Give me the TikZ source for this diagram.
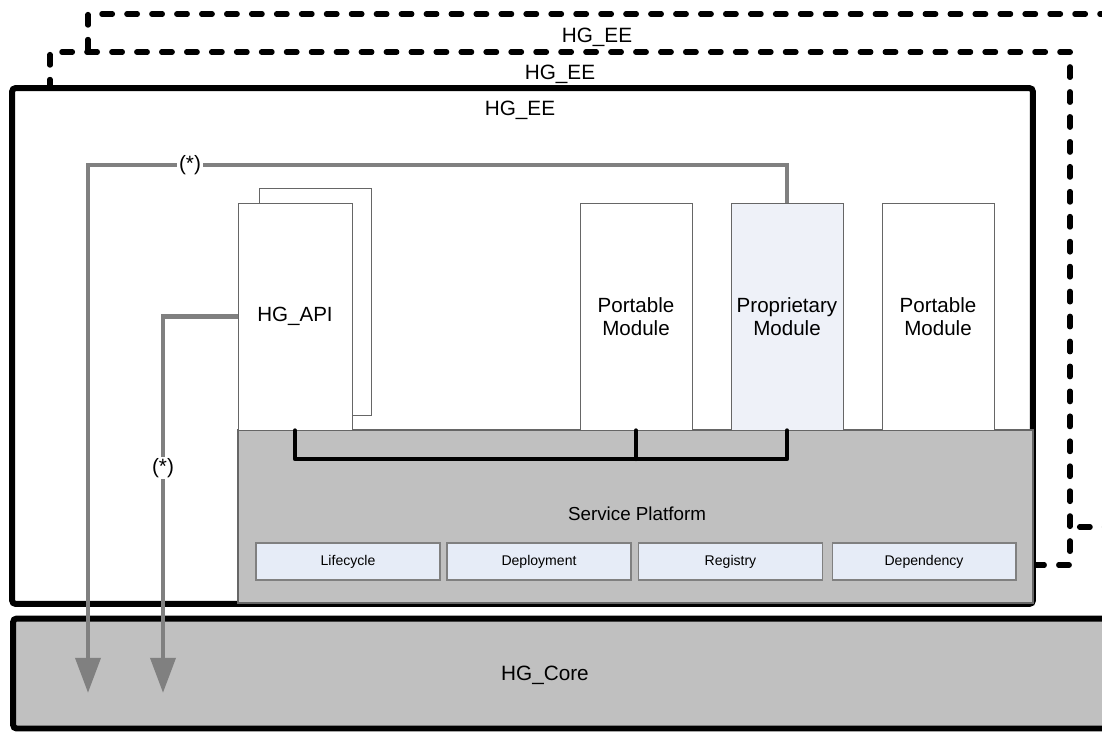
\documentclass[tikz,border=0pt]{standalone}
\usepackage{fontspec}
\setmainfont{Liberation Sans}
\usetikzlibrary{arrows.meta}

\definecolor{platgray}{HTML}{C0C0C0}
\definecolor{linegray}{HTML}{808080}
\definecolor{subblue}{HTML}{E6ECF7}
\definecolor{propblue}{HTML}{EEF1F8}

\tikzset{
module/.style={draw=black!60,rectangle,line width=0.5pt,fill=white,
minimum width=2.24cm,minimum height=4.54cm,inner sep=0pt,align=center,
font=\fontsize{11.7}{13}\selectfont},
subbox/.style={draw=linegray,rectangle,line width=0.6pt,fill=subblue,
minimum width=3.68cm,minimum height=0.74cm,inner sep=0pt,
font=\fontsize{8}{9.6}\selectfont},
eeframe/.style={draw=black,line width=3pt,dash pattern=on 6pt off 8.2pt,line cap=round,line join=round},
flow/.style={draw=linegray,line width=2.8pt,-{Triangle[width=14pt,length=20pt]}},
bus/.style={draw=black,line width=2.4pt,line cap=round,line join=round},
lab/.style={inner sep=1pt,font=\fontsize{11.8}{13}\selectfont}
}

\begin{document}
\begin{tikzpicture}[x=0.02cm,y=-0.02cm]
\useasboundingbox (0,0) rectangle (1102,731);
\clip (0,0) rectangle (1102,731);

% outer execution environments
\coordinate (ea) at (88,50);
\coordinate (eb) at (1070,527);
\draw[eeframe] (ea) -- (88,14) -- (1140,14);
\draw[eeframe] (1140,527) -- (eb);
\draw[eeframe] (50,90) -- (50,52) -- (1070,52) -- (1070,565) -- (1036,565);

\node[lab](eea) at (597,37){HG\_EE};
\node[lab](eeb) at (560,74){HG\_EE};

\node[draw,rectangle,line width=3.4pt,rounded corners=2pt,
minimum width=20.42cm,minimum height=10.32cm,
fill=white](ee) at (522.5,346){};

\node[lab](eec) at (520,110){HG\_EE};

\node[draw,rectangle,line width=3.4pt,rounded corners=2pt,
minimum width=22.4cm,minimum height=2.2cm,
fill=platgray](core) at (573,673.5){};
\node[lab](corelab) at (545,675){HG\_Core};

% service platform
\node[draw=black!60,rectangle,line width=0.7pt,
minimum width=15.9cm,minimum height=3.46cm,
fill=platgray](sp) at (635.5,516.5){};
\node[lab,font=\fontsize{10.7}{12}\selectfont](splab) at (637,514){Service Platform};

\node[subbox](life) at (348,561.5){Lifecycle};
\node[subbox](depl) at (539,561.5){Deployment};
\node[subbox](reg) at (730.5,561.5){Registry};
\node[subbox](dep) at (924,561.5){Dependency};

% bundles
\node[module](apib) at (315,301.5){};
\node[module,minimum width=2.28cm](api) at (295,316.5){HG\_API};

\node[module](port) at (636,316.5){Portable\\Module};
\node[module,fill=propblue](prop) at (787,316.5){Proprietary\\Module};
\node[module](portb) at (938,316.5){Portable\\Module};

\coordinate (busline) at (0,459);
\draw[bus] (api.south) -- (api.south |- busline) -| (prop.south);
\draw[bus] (port.south) -- (port.south |- busline);

% native calls
\coordinate (bend) at (88,165);
\coordinate (tipa) at (88,693);
\coordinate (tipb) at (163,693);
\draw[flow] (prop.north) |- (bend) -- (tipa);
\draw[flow] (api.west) -| (tipb);

\node[lab,fill=white](stara) at (190,165){(*)};
\node[lab,fill=white](starb) at (163,468){(*)};
\end{tikzpicture}
\end{document}
